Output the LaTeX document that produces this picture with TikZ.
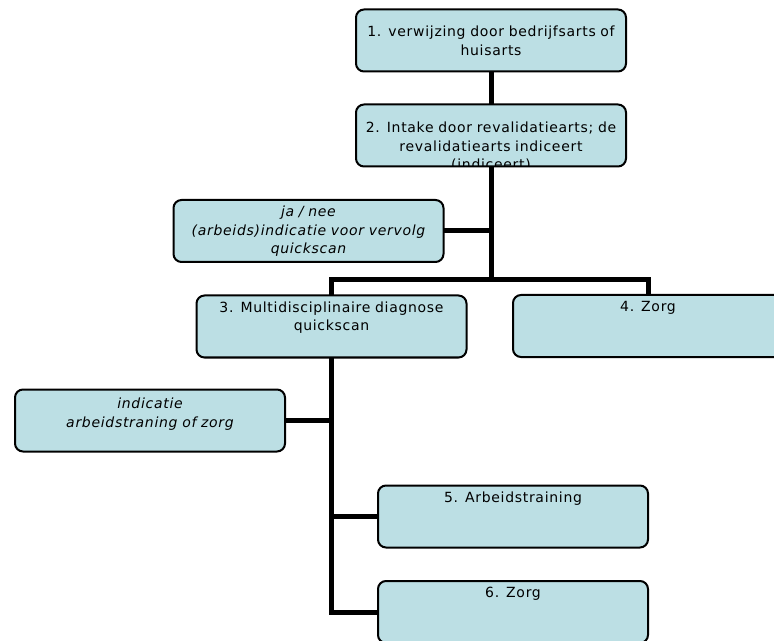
\documentclass[tikz,border=0pt]{standalone}
\usepackage{fontspec}
\usepackage{xcolor}
\usepackage{tikz}
\usetikzlibrary{positioning,backgrounds}
\newfontfamily\boxfont[LetterSpace=5]{DejaVu Sans}
\definecolor{boxblue}{RGB}{188,223,228}

\begin{document}
\begin{tikzpicture}[x=0.75pt,y=-0.75pt,
		box/.style={draw, line width=1.5pt, rounded corners=6pt, fill=boxblue,
			minimum width=202.5pt, minimum height=46.5pt, inner sep=0pt},
		boxtext/.style={align=center, inner sep=0pt, text width=200pt,
			font=\boxfont\fontsize{10.5}{14}\selectfont},
		link/.style={line width=3.75pt}]
	\useasboundingbox (0,0) rectangle (774,641);
	\clip (0,0) rectangle (774,641);

	% boxes
	\node[box] (verw) at (491,40.5) {};
	\node[box] (intake) at (491,135.5) {};
	\node[box] (janee) at (308.5,231) {};
	\node[box] (quick) at (331.5,326.5) {};
	\node[box] (zorgA) at (648,326) {};
	\node[box] (indic) at (150,420.5) {};
	\node[box] (train) at (513,516.5) {};
	\node[box] (zorgC) at (513,612) {};

	% texts
	\node[boxtext, below=13pt of verw.north] (verwtxt) {1. verwijzing door bedrijfsarts of\\huisarts};
	\begin{scope}
		\clip[rounded corners=6pt] ([yshift=0.8pt]intake.south west) rectangle (intake.north east);
		\node[boxtext, below=13.5pt of intake.north] (intaketxt) {2. Intake door revalidatiearts; de\\revalidatiearts indiceert\\(indiceert)};
	\end{scope}
	\node[boxtext, below=5pt of janee.north] (janeetxt) {\itshape ja / nee\\(arbeids)indicatie voor vervolg\\quickscan};
	\node[boxtext, below=5pt of quick.north] (quicktxt) {3. Multidisciplinaire diagnose\\quickscan};
	\node[boxtext, below=5pt of zorgA.north] (zorgAtxt) {4. Zorg};
	\node[boxtext, below=7pt of indic.north] (indictxt) {\itshape indicatie\\arbeidstraning of zorg};
	\node[boxtext, below=5pt of train.north] (traintxt) {5. Arbeidstraining};
	\node[boxtext, below=5pt of zorgC.north] (zorgCtxt) {6. Zorg};

	% connectors behind the boxes
	\begin{scope}[on background layer]
		\coordinate (split) at (intake.center |- 0,280);
		\coordinate (trunk) at (quick.center |- zorgC.center);
		\draw[link] (verw.center) -- (intake.center) -- (split);
		\draw[link] (janee.center) -- (janee.center -| split);
		\draw[link] (quick.center) |- (split) -| (zorgA.center);
		\draw[link] (quick.center) -- (trunk) -- (zorgC.center);
		\draw[link] (indic.center) -- (indic.center -| trunk);
		\draw[link] (train.center) -- (train.center -| trunk);
	\end{scope}
\end{tikzpicture}
\end{document}
